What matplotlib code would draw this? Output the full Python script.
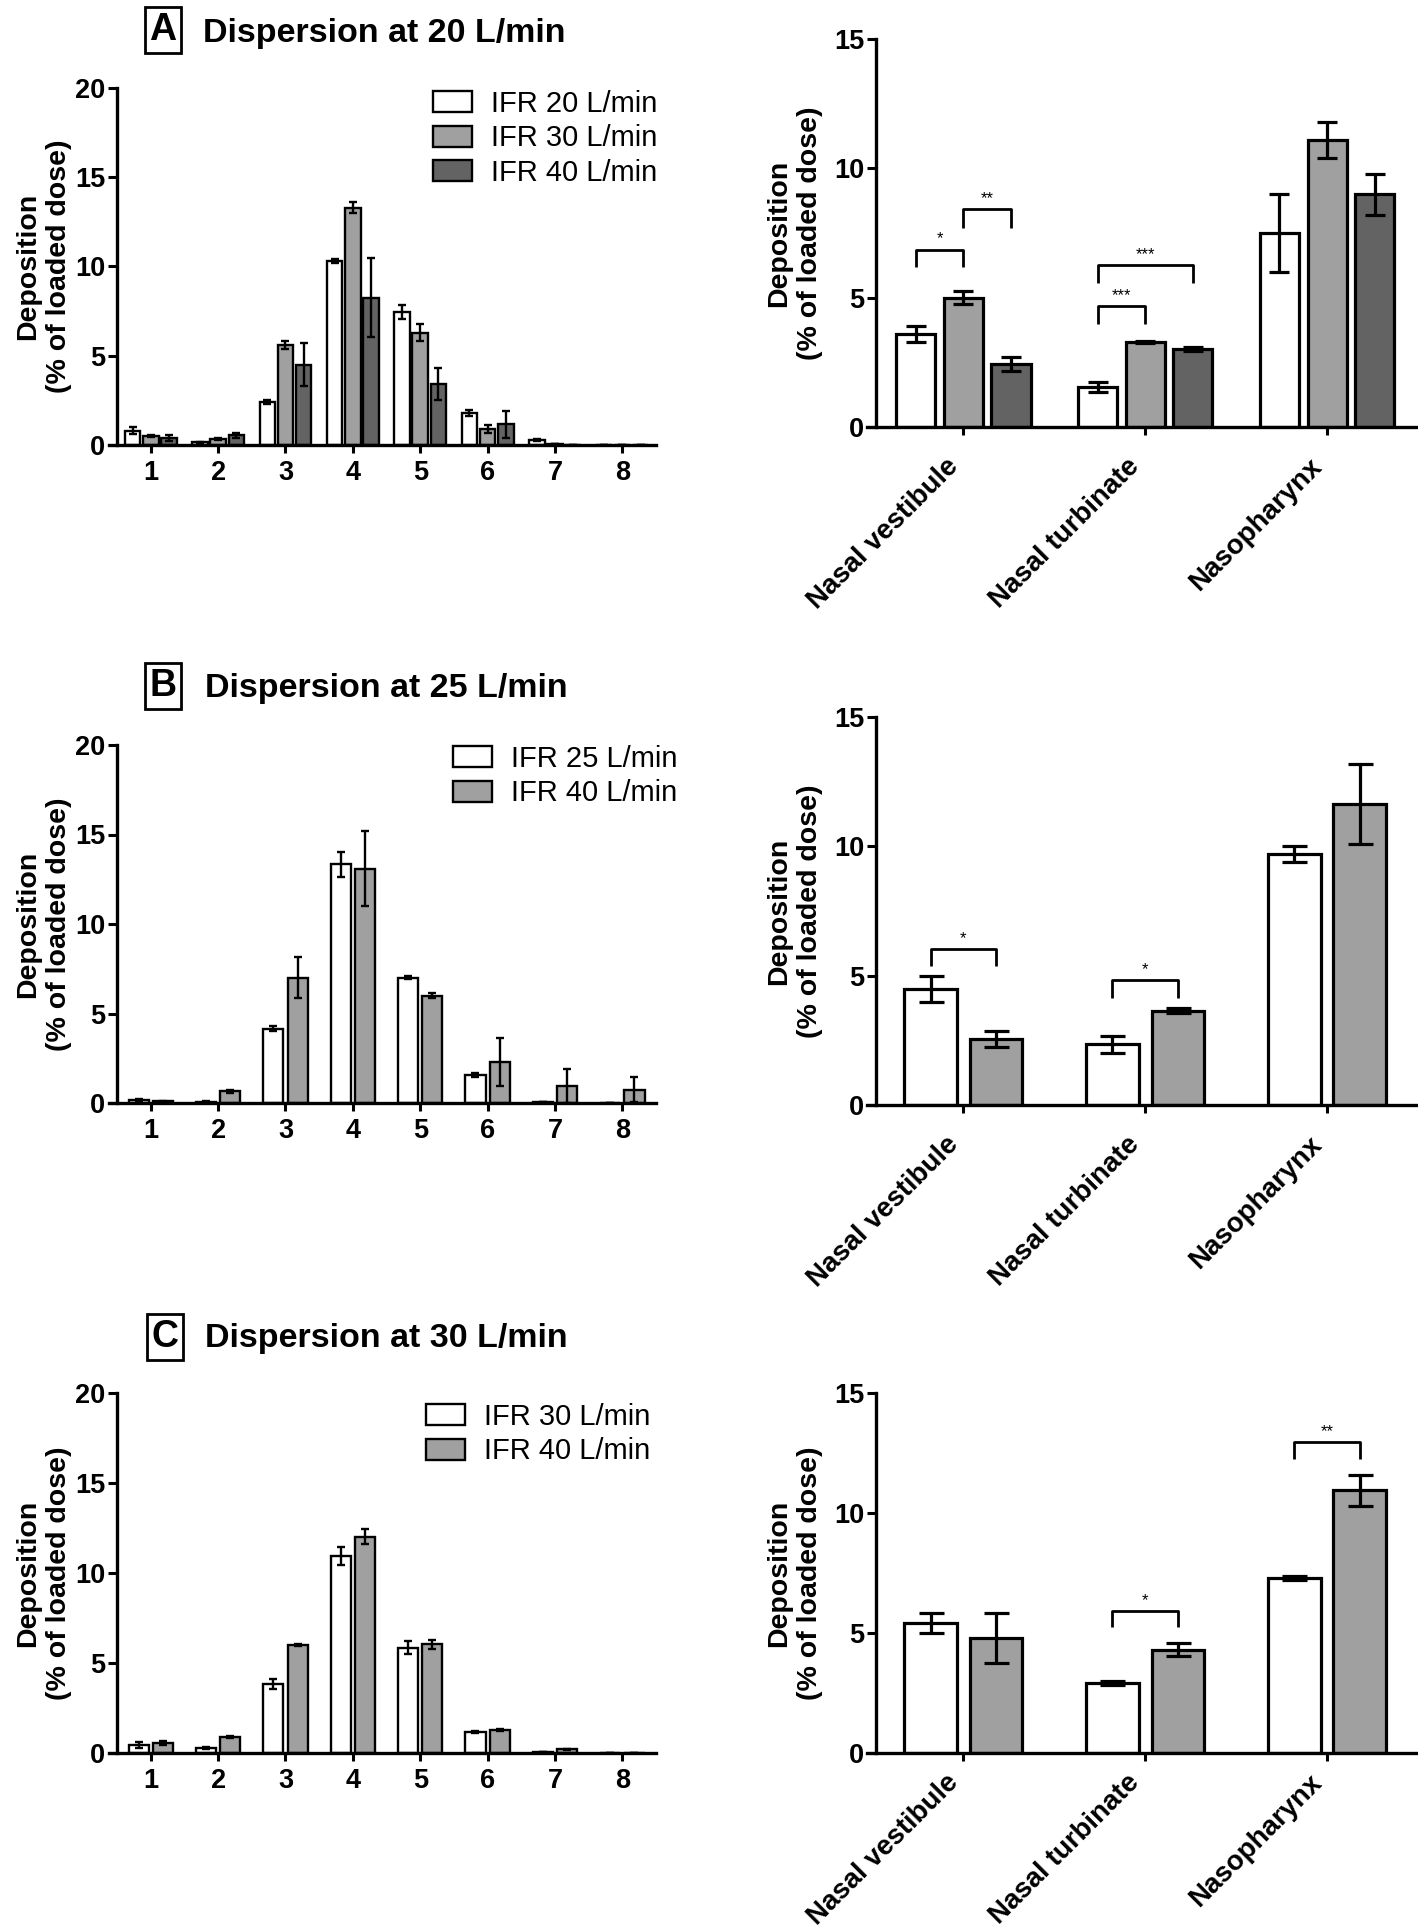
import numpy as np
import matplotlib as mpl
mpl.use('Agg')
from matplotlib import pyplot as plt

# Style
plt.rcParams.update({
    'font.family': ['Liberation Sans', 'DejaVu Sans'],
    'font.weight': 'bold',
    'axes.linewidth': 2.4,
    'xtick.major.width': 2.2,
    'ytick.major.width': 2.2,
    'xtick.major.size': 6,
    'ytick.major.size': 6.5,
    'xtick.labelsize': 19.5,
    'ytick.labelsize': 19.5,
    'xtick.direction': 'out',
    'ytick.direction': 'out',
})

# ---- data ----
stages = [1, 2, 3, 4, 5, 6, 7, 8]
regions = ['Nasal vestibule', 'Nasal turbinate', 'Nasopharynx']

# A: dispersion at 20 L/min
a_labels = ['IFR 20 L/min', 'IFR 30 L/min', 'IFR 40 L/min']
a_stage_mean = [[0.8, 0.15, 2.4, 10.3, 7.45, 1.8, 0.3, 0.0],
                [0.5, 0.35, 5.6, 13.3, 6.3, 0.9, 0.03, 0.0],
                [0.4, 0.55, 4.5, 8.25, 3.4, 1.15, 0.0, 0.0]]
a_stage_err = [[0.2, 0.03, 0.1, 0.1, 0.4, 0.15, 0.05, 0.0],
               [0.05, 0.05, 0.2, 0.3, 0.5, 0.2, 0.0, 0.0],
               [0.15, 0.15, 1.2, 2.2, 0.9, 0.75, 0.0, 0.0]]
a_region_mean = [[3.6, 1.55, 7.5],
                 [5.0, 3.28, 11.1],
                 [2.45, 3.0, 9.0]]
a_region_err = [[0.3, 0.2, 1.5],
                [0.25, 0.05, 0.7],
                [0.27, 0.08, 0.8]]
# (group, bar i, bar j, top, leg bottom, label)
a_brackets = [(0, 0, 1, 6.86, 6.19, '*'),
              (0, 1, 2, 8.41, 7.7, '**'),
              (1, 0, 1, 4.67, 4.0, '***'),
              (1, 0, 2, 6.26, 5.57, '***')]

# B: dispersion at 25 L/min
b_labels = ['IFR 25 L/min', 'IFR 40 L/min']
b_stage_mean = [[0.15, 0.08, 4.15, 13.35, 7.0, 1.55, 0.05, 0.0],
                [0.1, 0.65, 7.0, 13.1, 6.0, 2.3, 0.97, 0.73]]
b_stage_err = [[0.05, 0.02, 0.15, 0.7, 0.1, 0.1, 0.02, 0.0],
               [0.03, 0.1, 1.15, 2.1, 0.15, 1.35, 0.95, 0.7]]
b_region_mean = [[4.5, 2.35, 9.7],
                 [2.55, 3.65, 11.65]]
b_region_err = [[0.5, 0.33, 0.3],
                [0.3, 0.1, 1.55]]
b_brackets = [(0, 0, 1, 6.03, 5.37, '*'),
              (1, 0, 1, 4.83, 4.12, '*')]

# C: dispersion at 30 L/min
c_labels = ['IFR 30 L/min', 'IFR 40 L/min']
c_stage_mean = [[0.45, 0.27, 3.83, 10.93, 5.85, 1.15, 0.05, 0.0],
                [0.57, 0.9, 6.0, 12.02, 6.03, 1.27, 0.21, 0.0]]
c_stage_err = [[0.15, 0.05, 0.3, 0.5, 0.35, 0.05, 0.0, 0.0],
               [0.1, 0.05, 0.07, 0.42, 0.25, 0.05, 0.03, 0.0]]
c_region_mean = [[5.4, 2.9, 7.3],
                 [4.8, 4.3, 10.95]]
c_region_err = [[0.42, 0.08, 0.08],
                [1.05, 0.27, 0.65]]
c_brackets = [(1, 0, 1, 5.93, 5.26, '*'),
              (2, 0, 1, 12.94, 12.26, '**')]

colors3 = ['white', '#a0a0a0', '#636363']
colors2 = ['white', '#a0a0a0']

W, H = 1418, 1930
fig = plt.figure(figsize=(W / 100, H / 100), dpi=100)


def px_rect(x0, y_top, w, h):
    return [x0 / W, 1 - (y_top + h) / H, w / W, h / H]


def draw_bars(ax, x, means, errs, colors, width, offsets, lw, cap, elw):
    handles = []
    for m, e, c, off in zip(means, errs, colors, offsets):
        b = ax.bar(x + off, m, width, color=c, edgecolor='black',
                   linewidth=lw, zorder=2)
        ax.errorbar(x + off, m, yerr=e, fmt='none', ecolor='black',
                    elinewidth=elw, capsize=cap, capthick=elw, zorder=3)
        handles.append(b)
    return handles


def style_axes(ax, spine_x, yticks, label_x):
    ax.spines['top'].set_visible(False)
    ax.spines['right'].set_visible(False)
    ax.spines['left'].set_position(('data', spine_x))
    ax.set_yticks(yticks)
    ax.set_ylim(0, yticks[-1])
    ax.tick_params(axis='y', pad=2)
    ax.set_ylabel('Deposition\n(% of loaded dose)', fontsize=20.5,
                  fontweight='bold', linespacing=1.25)
    ax.yaxis.set_label_coords(label_x, 0.5)


def stage_panel(rect, means, errs, colors, labels, width, offsets, leg_xy):
    ax = fig.add_axes(px_rect(*rect))
    x = np.array(stages, dtype=float)
    hs = draw_bars(ax, x, means, errs, colors, width, offsets, 1.7, 3, 1.7)
    ax.set_xlim(0.38, 8.5)
    ax.set_xticks(stages)
    ax.tick_params(axis='x', pad=5)
    style_axes(ax, 0.5, [0, 5, 10, 15, 20], -0.068)
    ax.legend(hs, labels, loc='upper left',
              bbox_to_anchor=(leg_xy[0] / W, 1 - leg_xy[1] / H),
              bbox_transform=fig.transFigure, frameon=False,
              borderpad=0, borderaxespad=0, handlelength=1.35,
              handleheight=0.72, handletextpad=0.65, labelspacing=0.22,
              prop=dict(weight='normal', size=21))
    return ax


def region_panel(rect, means, errs, colors, width, offsets, cap, brackets,
                 lab_pad):
    ax = fig.add_axes(px_rect(*rect))
    x = np.arange(len(regions), dtype=float)
    draw_bars(ax, x, means, errs, colors, width, offsets, 2.3, cap, 2.3)
    ax.set_xlim(-0.53, 2.5)
    ax.set_xticks(x)
    ax.set_xticklabels(regions, rotation=45, ha='right', fontsize=20)
    ax.tick_params(axis='x', pad=lab_pad)
    style_axes(ax, -0.48, [0, 5, 10, 15], -0.08)
    for g, i, j, top, bot, lab in brackets:
        x1 = g + offsets[i]
        x2 = g + offsets[j]
        ax.plot([x1, x1, x2, x2], [bot, top, top, bot], color='black',
                lw=2.0, solid_capstyle='butt', zorder=4)
        ax.text((x1 + x2) / 2, top + 0.12, lab, ha='center', va='bottom',
                fontsize=12, fontweight='normal')
    return ax


def panel_title(letter, rate, box_x, y_center, text_x, baseline):
    fig.text(box_x / W, 1 - y_center / H, letter, ha='center', va='center',
             fontsize=27, fontweight='bold',
             bbox=dict(boxstyle='square,pad=0.13', fc='white', ec='black',
                       lw=2.0))
    fig.text(text_x / W, 1 - baseline / H, 'Dispersion at ' + rate,
             ha='left', va='baseline', fontsize=24.5, fontweight='bold')


# Panel A
panel_title('A', '20 L/min', 163, 30, 203, 42)
stage_panel((109, 88, 547, 357), a_stage_mean, a_stage_err, colors3,
            a_labels, 0.23, [-0.27, 0.0, 0.27], (433, 90))
region_panel((867, 39, 551, 388), a_region_mean, a_region_err, colors3,
             0.215, [-0.262, 0.0, 0.262], 7, a_brackets, 13)

# Panel B
panel_title('B', '25 L/min', 163, 686, 205, 697)
stage_panel((109, 745, 547, 358), b_stage_mean, b_stage_err, colors2,
            b_labels, 0.3, [-0.18, 0.18], (453, 745))
region_panel((867, 717, 551, 388), b_region_mean, b_region_err, colors2,
             0.29, [-0.18, 0.18], 9, b_brackets, 13)

# Panel C
panel_title('C', '30 L/min', 165, 1337, 205, 1347)
stage_panel((109, 1393, 547, 360), c_stage_mean, c_stage_err, colors2,
            c_labels, 0.3, [-0.18, 0.18], (426, 1403))
region_panel((867, 1393, 551, 360), c_region_mean, c_region_err, colors2,
             0.29, [-0.18, 0.18], 9, c_brackets, 6)

fig.savefig('out.png', dpi=100, facecolor='white')
